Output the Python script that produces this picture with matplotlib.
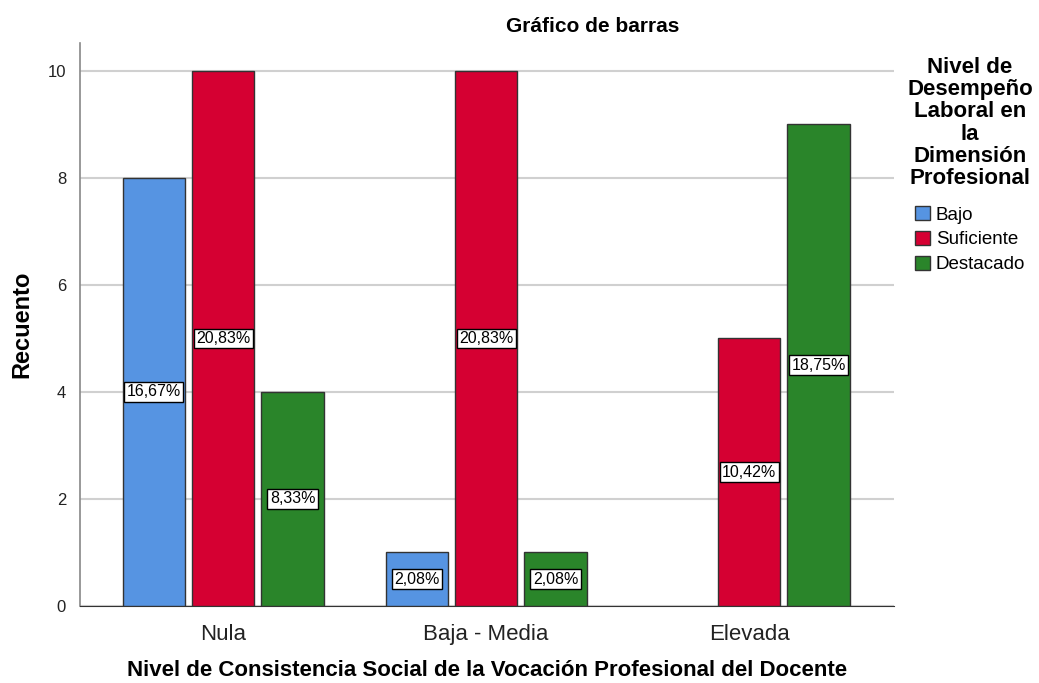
import numpy as np
import matplotlib
matplotlib.use("Agg")
import matplotlib.pyplot as plt
from matplotlib.patches import Patch

plt.rcParams["font.family"] = ["Liberation Sans", "DejaVu Sans"]

categories = ["Nula", "Baja - Media", "Elevada"]
series = ["Bajo", "Suficiente", "Destacado"]
bajo = [8, 1, 0]
suficiente = [10, 10, 5]
destacado = [4, 1, 9]
pct_bajo = ["16,67%", "2,08%", ""]
pct_suficiente = ["20,83%", "20,83%", "10,42%"]
pct_destacado = ["8,33%", "2,08%", "18,75%"]
colors = ["#5694E2", "#D50032", "#2A852A"]
legend_title = "Nivel de\nDesempeño\nLaboral en\nla\nDimensión\nProfesional"

fig = plt.figure(figsize=(10.39, 6.83), dpi=100)
ax = fig.add_axes([80 / 1039, 1 - 606 / 683, (894 - 80) / 1039, (606 - 43) / 683])

x = np.arange(len(categories))
width = 0.236
offset = 0.264
for i, (vals, pcts) in enumerate(zip([bajo, suficiente, destacado],
                                     [pct_bajo, pct_suficiente, pct_destacado])):
    xs = x + (i - 1) * offset
    for xi, v, p in zip(xs, vals, pcts):
        if v <= 0:
            continue
        ax.bar(xi, v, width, color=colors[i], edgecolor="#333333", linewidth=1.0, zorder=3)
        ax.text(xi, v / 2, p, ha="center", va="center", fontsize=11.5, zorder=4,
                bbox=dict(boxstyle="square,pad=0.15", facecolor="white", edgecolor="black", linewidth=1))

ax.set_xlim(-0.544, 2.551)
ax.set_ylim(0, 10.52)
ax.set_yticks([0, 2, 4, 6, 8, 10])
ax.yaxis.grid(True, color="#d0d0d0", linewidth=1.5, zorder=0)
ax.set_axisbelow(True)
ax.set_xticks(x)
ax.set_xticklabels(categories, fontsize=16, color="#222222")
ax.tick_params(axis="y", length=0, labelsize=12, pad=10, labelcolor="#222222")
ax.tick_params(axis="x", length=0, pad=13)
for s in ["top", "right"]:
    ax.spines[s].set_visible(False)
ax.spines["left"].set_color("#888888")
ax.spines["left"].set_linewidth(1.2)
ax.spines["bottom"].set_color("#333333")

ax.set_xlabel("Nivel de Consistencia Social de la Vocación Profesional del Docente",
              fontsize=16, fontweight="bold", va="center")
ax.xaxis.set_label_coords(0.5, (12 - 77) / 563)
ax.set_ylabel("Recuento", fontsize=17, fontweight="bold", va="center")
ax.yaxis.set_label_coords((22 - 80) / 814, 0.5)
fig.text(593 / 1039, 1 - 26 / 683, "Gráfico de barras", ha="center", va="center",
         fontsize=15, fontweight="bold")

# legend title drawn separately so it stays centred inside the figure
fig.text(970 / 1039, 1 - 123 / 683, legend_title, ha="center", va="center",
         multialignment="center", fontsize=16, fontweight="bold", linespacing=1.08)
handles = [Patch(facecolor=c, edgecolor="#333333", label=s) for c, s in zip(colors, series)]
fig.legend(handles=handles, loc="upper left", bbox_to_anchor=(915 / 1039, 1 - 206 / 683),
           frameon=False, fontsize=13.5, handlelength=0.8, handleheight=0.8,
           handletextpad=0.3, labelspacing=0.38, borderpad=0, borderaxespad=0)

fig.savefig("out.png", dpi=100)
